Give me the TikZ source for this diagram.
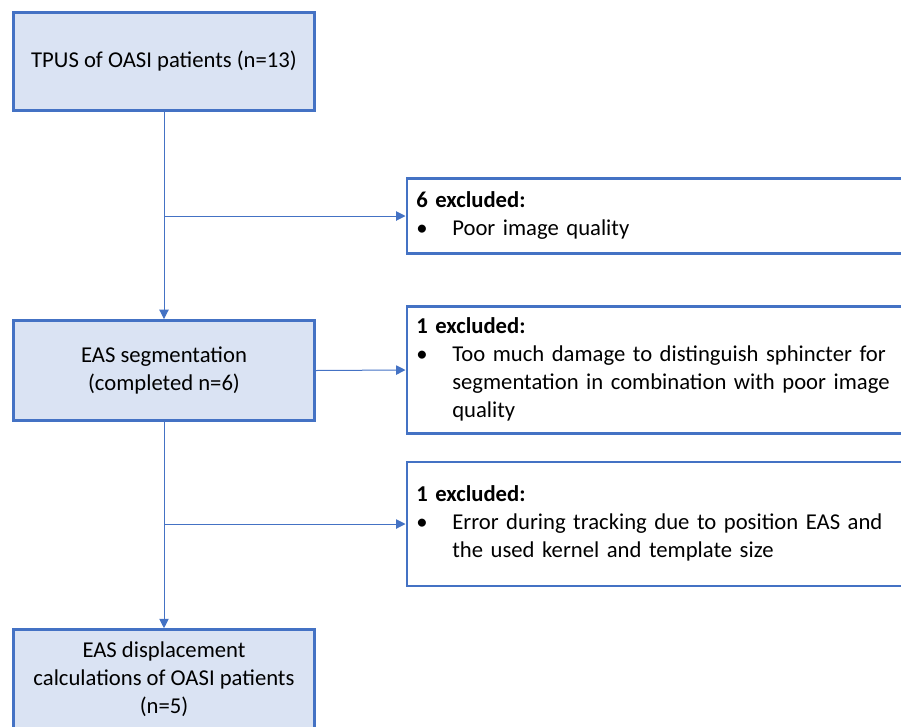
\documentclass[tikz,border=0pt]{standalone}
\usepackage{fontspec}
\setmainfont{Carlito}
\usepackage{array}
\usetikzlibrary{arrows.meta,positioning}
\definecolor{fcFill}{HTML}{DAE3F3}
\definecolor{fcEdge}{HTML}{4472C4}
\tikzset{
  fc diagram/.style={font=\fontsize{17}{21}\selectfont, text=black},
  fc step/.style={draw=fcEdge, fill=fcFill, line width=2.2pt,
    align=center, minimum width=226pt, inner sep=0pt},
  fc excl/.style={draw=fcEdge, fill=white, line width=2.2pt,
    minimum width=382pt, text width=372pt, inner xsep=7pt, inner ysep=0pt},
  fc arrow/.style={-{Triangle[length=7pt,width=7pt]}, draw=fcEdge, line width=0.75pt}
}
% exclusion box body: bold heading, then bulleted lines
\newcommand{\exclbody}[2]{%
  \begin{tabular}{@{}p{27pt}@{}l@{}}
  \multicolumn{2}{@{}l}{\textbf{#1}}\\
  \textbullet & #2
  \end{tabular}}

\begin{document}
\begin{tikzpicture}[fc diagram,x=0.75pt,y=-0.75pt]
\useasboundingbox (0,0) rectangle (901,726);
\clip (0,0) rectangle (901,726);
% main flow
\node[fc step, minimum height=74pt] (tpus) at (164,61.5) {TPUS of OASI patients (n=13)};
\node[fc step, minimum height=75pt] (seg) at (164,370.5) {EAS segmentation\\(completed n=6)};
\node[fc step, minimum height=74pt] (disp) at (164,679) {EAS displacement\\calculations of OASI patients\\(n=5)};
% exclusions
\node[fc excl, minimum height=56pt, anchor=west] (excl1) at (405.5,216)
  {\exclbody{6 excluded:}{Poor image quality}};
\node[fc excl, minimum height=95pt, anchor=west] (excl2) at (405.5,370)
  {\exclbody{1 excluded:}{Too much damage to distinguish sphincter for\\ & segmentation in combination with poor image\\ & quality}};
\node[fc excl, minimum height=93pt, anchor=west] (excl3) at (405.5,524)
  {\exclbody{1 excluded:}{Error during tracking due to position EAS and\\ & the used kernel and template size}};
% connectors
\draw[fc arrow] (tpus.south) -- (seg.north);
\draw[fc arrow] (tpus.south |- excl1.west) -- (excl1.west);
\draw[fc arrow] (seg.east) -- (excl2.west);
\draw[fc arrow] (seg.south) -- (disp.north);
\draw[fc arrow] (seg.south |- excl3.west) -- (excl3.west);
\end{tikzpicture}
\end{document}
